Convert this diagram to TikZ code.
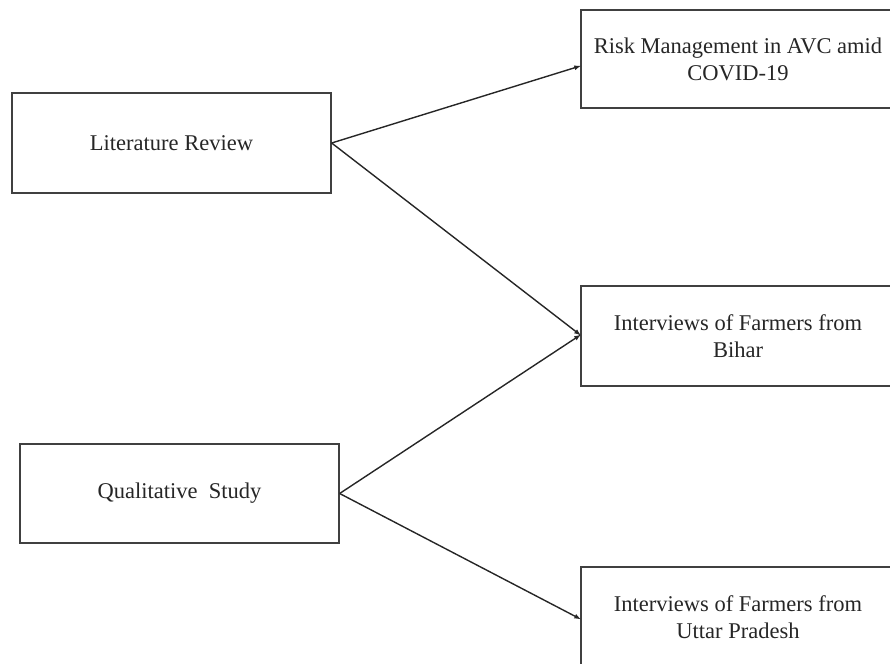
\documentclass[tikz,border=0pt]{standalone}
\usepackage{fontspec}
\setmainfont{Liberation Serif}
\usetikzlibrary{arrows.meta}
\tikzset{
  box/.style={draw=black!75, line width=1.3pt, fill=white, inner sep=0pt, align=center,
    font=\fontsize{22.5}{27}\selectfont, text=black!85},
  conn/.style={draw=black!85, line width=1.4pt, -{Latex[length=7pt,width=5pt]}, shorten >=-1pt}
}
\begin{document}
\begin{tikzpicture}[x=1pt,y=-1pt]
\useasboundingbox (0,0) rectangle (890,663);
\clip (0,0) rectangle (890,663);
\node[box, minimum width=319pt, minimum height=100pt] (lit) at (171.5,143) {Literature Review};
\node[box, minimum width=319pt, minimum height=99pt] (qual) at (179.5,493.5) {Qualitative\ \ Study};
\node[box, minimum width=314pt, minimum height=98pt] (risk) at (738,59) {Risk Management in AVC amid\\COVID-19};
\node[box, minimum width=314pt, minimum height=100pt] (bihar) at (738,336) {Interviews of Farmers from\\Bihar};
\node[box, minimum width=314pt, minimum height=100pt] (up) at (738,617) {Interviews of Farmers from\\Uttar Pradesh};
\draw[conn] (lit.east) -- ([yshift=-7pt]risk.west);
\draw[conn] (lit.east) -- ([yshift=1pt]bihar.west);
\draw[conn] (qual.east) -- ([yshift=1pt]bihar.west);
\draw[conn] (qual.east) -- ([yshift=-2pt]up.west);
\end{tikzpicture}
\end{document}
